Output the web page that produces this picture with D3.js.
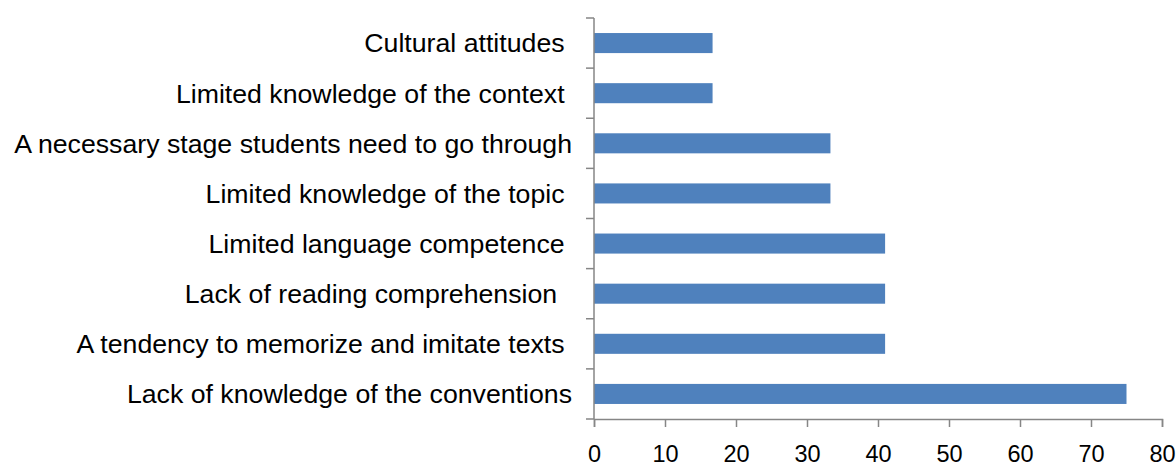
<!DOCTYPE html>
<html>
<head>
<meta charset="utf-8">
<script src="https://cdn.jsdelivr.net/npm/d3@7"></script>
<style>
  body { margin: 0; background: #fff; }
  text { font-family: "Liberation Sans", Arial, sans-serif; fill: #000; white-space: pre; }
</style>
</head>
<body>
<script>
// categories listed top to bottom
var categories = [
  'Cultural attitudes ',
  'Limited knowledge of the context ',
  'A necessary stage students need to go through',
  'Limited knowledge of the topic ',
  'Limited language competence ',
  'Lack of reading comprehension  ',
  'A tendency to memorize and imitate texts ',
  'Lack of knowledge of the conventions'
];
var values = [16.7, 16.7, 33.3, 33.3, 41, 41, 41, 75];
var xTicks = [0, 10, 20, 30, 40, 50, 60, 70, 80];

var W = 1176, H = 462;
var margin = {left: 594, right: 1162, top: 18, bottom: 419};

var svg = d3.select('body').append('svg')
    .attr('width', W)
    .attr('height', H);

var x = d3.scaleLinear().domain([0, 80]).range([margin.left, margin.right]);
var y = d3.scaleBand().domain(categories).range([margin.top, margin.bottom])
    .paddingInner(0.6).paddingOuter(0.3);

svg.selectAll('rect.bar')
  .data(values)
  .enter()
  .append('rect')
  .attr('class', 'bar')
  .attr('x', x(0))
  .attr('y', function (d, i) { return y(categories[i]); })
  .attr('width', function (d) { return x(d) - x(0); })
  .attr('height', y.bandwidth())
  .attr('fill', '#4F81BD');

// x axis
var xAxis = d3.axisBottom(x).tickValues(xTicks).tickSize(8).tickPadding(18);
var gx = svg.append('g')
    .attr('transform', 'translate(0,' + margin.bottom + ')')
    .call(xAxis);
gx.select('.domain').attr('stroke', '#868686').attr('stroke-width', 1.5);
gx.selectAll('.tick line').attr('stroke', '#868686').attr('stroke-width', 1.5);
gx.selectAll('.tick text')
  .attr('font-size', 23.5)
  .attr('font-family', 'Liberation Sans, Arial, sans-serif')
  .attr('fill', '#000');

// y axis line + boundary ticks
svg.append('line')
  .attr('x1', margin.left).attr('x2', margin.left)
  .attr('y1', margin.top).attr('y2', margin.bottom)
  .attr('stroke', '#868686').attr('stroke-width', 1.5);

var step = y.step();
svg.selectAll('line.ytick')
  .data(d3.range(categories.length + 1))
  .enter()
  .append('line')
  .attr('class', 'ytick')
  .attr('x1', margin.left - 8).attr('x2', margin.left)
  .attr('y1', function (i) { return margin.top + i * step; })
  .attr('y2', function (i) { return margin.top + i * step; })
  .attr('stroke', '#868686').attr('stroke-width', 1.5);

svg.selectAll('text.cat')
  .data(categories)
  .enter()
  .append('text')
  .attr('class', 'cat')
  .attr('x', 572)
  .attr('y', function (d) { return y(d) + y.bandwidth() / 2; })
  .attr('dy', '0.35em')
  .attr('text-anchor', 'end')
  .attr('font-size', 26.7)
  .text(function (d) { return d; });
</script>
</body>
</html>
